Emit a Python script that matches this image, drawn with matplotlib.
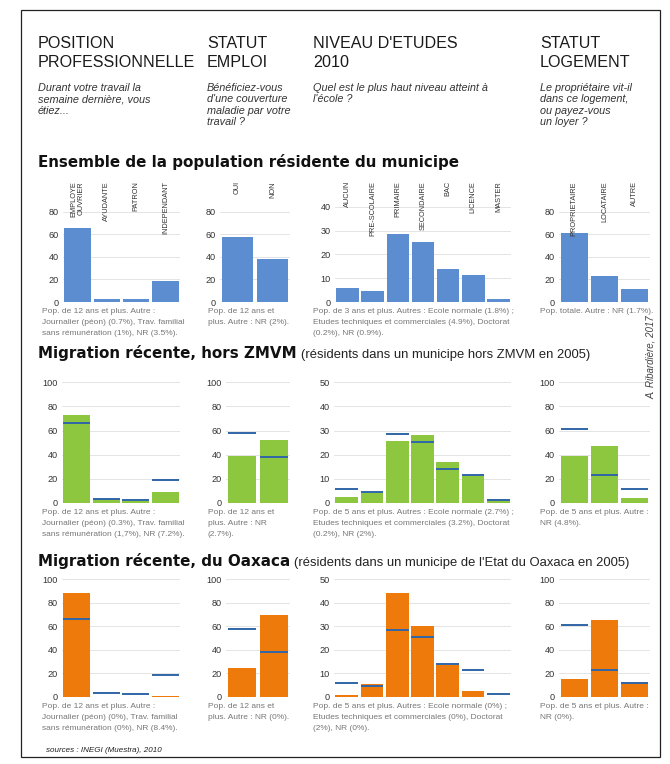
import numpy as np
import matplotlib
matplotlib.use('Agg')
import matplotlib.pyplot as plt
from matplotlib import font_manager, transforms
from matplotlib.patches import Rectangle

W, H = 670, 764

# categories
pos_cats = ['EMPLOYE\nOUVRIER', 'AYUDANTE', 'PATRON', 'INDEPENDANT']
emp_cats = ['OUI', 'NON']
etu_cats = ['AUCUN', 'PRE-SCOLAIRE', 'PRIMAIRE', 'SECONDAIRE', 'BAC', 'LICENCE', 'MASTER']
log_cats = ['PROPRIETAIRE', 'LOCATAIRE', 'AUTRE']

# ensemble de la population (also used as reference lines)
pos_ens = [66, 3, 2.5, 19]
emp_ens = [58, 38]
etu_ens = [6, 4.6, 28.6, 25.3, 14, 11.4, 1.1]
log_ens = [61, 23, 11.5]

# migration recente hors ZMVM
pos_zmvm = [73, 3.3, 1.3, 9.5]
emp_zmvm = [39, 52]
etu_zmvm = [2.3, 4, 25.5, 28, 17, 11.3, 1.5]
log_zmvm = [38.5, 47.5, 4]

# migration recente du Oaxaca
pos_oax = [88, 0, 0, 0.8]
emp_oax = [25, 70]
etu_oax = [0.8, 5.5, 44, 30, 13.5, 2.5, 0]
log_oax = [15, 65, 13]

headers = ['POSITION\nPROFESSIONNELLE', 'STATUT\nEMPLOI', "NIVEAU D'ETUDES\n2010", 'STATUT\nLOGEMENT']
questions = ['Durant votre travail la\nsemaine dernière, vous\nétiez...',
             "Bénéficiez-vous\nd'une couverture\nmaladie par votre\ntravail ?",
             "Quel est le plus haut niveau atteint à\nl'école ?",
             'Le propriétaire vit-il\ndans ce logement,\nou payez-vous\nun loyer ?']

notes_ens = ['Pop. de 12 ans et plus. Autre :\nJournalier (péon) (0.7%), Trav. familial\nsans rémunération (1%), NR (3.5%).',
             'Pop. de 12 ans et\nplus. Autre : NR (2%).',
             'Pop. de 3 ans et plus. Autres : Ecole normale (1.8%) ;\nEtudes techniques et commerciales (4.9%), Doctorat\n(0.2%), NR (0.9%).',
             'Pop. totale. Autre : NR (1.7%).']
notes_zmvm = ['Pop. de 12 ans et plus. Autre :\nJournalier (péon) (0.3%), Trav. familial\nsans rémunération (1,7%), NR (7.2%).',
              'Pop. de 12 ans et\nplus. Autre : NR\n(2.7%).',
              'Pop. de 5 ans et plus. Autres : Ecole normale (2.7%) ;\nEtudes techniques et commerciales (3.2%), Doctorat\n(0.2%), NR (2%).',
              'Pop. de 5 ans et plus. Autre :\nNR (4.8%).']
notes_oax = ['Pop. de 12 ans et plus. Autre :\nJournalier (péon) (0%), Trav. familial\nsans rémunération (0%), NR (8.4%).',
             'Pop. de 12 ans et\nplus. Autre : NR (0%).',
             'Pop. de 5 ans et plus. Autres : Ecole normale (0%) ;\nEtudes techniques et commerciales (0%), Doctorat\n(2%), NR (0%).',
             'Pop. de 5 ans et plus. Autre :\nNR (0%).']

BLUE, GREEN, ORANGE, REF = '#5b8dd0', '#8dc63f', '#ee7a0c', '#2f66a8'

names = {f.name for f in font_manager.fontManager.ttflist}
NARROW = 'Liberation Sans Narrow' if 'Liberation Sans Narrow' in names else 'Liberation Sans'

fig = plt.figure(figsize=(W/100, H/100), dpi=100)
fig.patch.set_facecolor('white')

def fx(x): return x / W
def fy(y): return 1 - y / H

# frame
fig.patches.append(Rectangle((fx(21), fy(757)), fx(660)-fx(21), (757-10)/H,
                             transform=fig.transFigure, fill=False, lw=0.9, ec='#222'))

# column headers
head_x = [38, 207, 313, 540]
for x, h, q in zip(head_x, headers, questions):
    fig.text(fx(x), fy(36), h, family=NARROW, fontsize=11.6, va='top', ha='left',
             color='#1a1a1a', linespacing=1.3)
    fig.text(fx(x), fy(83), q, family='Liberation Sans', style='italic', fontsize=7.8,
             va='top', ha='left', color='#333', linespacing=1.18)

# section headings
def heading(y, bold, rest=None):
    t = fig.text(fx(38), fy(y), bold, family='DejaVu Sans', weight='bold', fontsize=10.9,
                 va='baseline', ha='left', color='#111')
    if rest:
        r = fig.canvas.get_renderer()
        bb = t.get_window_extent(renderer=r)
        fig.text(bb.x1 / (fig.dpi * fig.get_figwidth()) + 0.006, fy(y), rest, family=NARROW,
                 fontsize=9.4, va='baseline', ha='left', color='#222')

heading(167, 'Ensemble de la population résidente du municipe')
heading(358, 'Migration récente, hors ZMVM', '(résidents dans un municipe hors ZMVM en 2005)')
heading(566, 'Migration récente, du Oaxaca', "(résidents dans un municipe de l'Etat du Oaxaca en 2005)")

def panel(x0, x1, y_top, y_bot, vals, color, ymax, ticks, ref=None):
    ax = fig.add_axes([fx(x0), fy(y_bot), fx(x1) - fx(x0), (y_bot - y_top) / H])
    xs = np.arange(len(vals))
    ax.bar(xs, vals, width=0.9, color=color, zorder=2)
    if ref is not None:
        ax.hlines(ref, xs - 0.45, xs + 0.45, color=REF, lw=1.4, zorder=3)
    ax.set_xlim(-0.5, len(vals) - 0.5)
    ax.set_ylim(0, ymax)
    ax.set_yticks(ticks)
    ax.set_xticks([])
    ax.grid(axis='y', color='#e4e4e4', lw=0.7, zorder=0)
    for s in ax.spines.values():
        s.set_visible(False)
    ax.tick_params(axis='y', length=0, pad=3, labelsize=6.6, labelcolor='#333')
    for lab in ax.get_yticklabels():
        lab.set_family(NARROW)
    ax.patch.set_alpha(0)
    return ax

cols_x = [(63, 180), (220, 290), (335, 511), (559, 650)]
cols_x2 = [(62, 180), (226, 290), (334, 511), (559, 650)]
note_x = [42, 208, 313, 540]

# row 1
row1 = [(pos_cats, pos_ens, 86.2, [0, 20, 40, 60, 80]),
        (emp_cats, emp_ens, 86.2, [0, 20, 40, 60, 80]),
        (etu_cats, etu_ens, 40.8, [0, 10, 20, 30, 40]),
        (log_cats, log_ens, 86.2, [0, 20, 40, 60, 80])]
for (x0, x1), (cats, vals, ymax, ticks), nx, note in zip(cols_x, row1, note_x, notes_ens):
    ax = panel(x0, x1, 205, 302, vals, BLUE, ymax, ticks)
    tr = transforms.blended_transform_factory(ax.transData, fig.transFigure)
    for i, c in enumerate(cats):
        ax.text(i, fy(181), c, transform=tr, rotation=90, va='top', ha='center',
                family=NARROW, fontsize=5.3, color='#333', multialignment='right',
                linespacing=0.95)
    fig.text(fx(nx), fy(308), note, family=NARROW, fontsize=6.0, va='top', ha='left',
             color='#777', linespacing=1.8)

# rows 2 and 3
rows = [(381, 503, GREEN, [pos_zmvm, emp_zmvm, etu_zmvm, log_zmvm], notes_zmvm),
        (578, 697, ORANGE, [pos_oax, emp_oax, etu_oax, log_oax], notes_oax)]
refs = [pos_ens, emp_ens, etu_ens, log_ens]
for yt, yb, color, series, notes in rows:
    for k, ((x0, x1), vals, ref, nx, note) in enumerate(zip(cols_x2, series, refs, note_x, notes)):
        if k == 2:
            panel(x0, x1, yt, yb, vals, color, 50.5, [0, 10, 20, 30, 40, 50], ref)
        else:
            panel(x0, x1, yt, yb, vals, color, 101, [0, 20, 40, 60, 80, 100], ref)
        fig.text(fx(nx), fy(yb + 6), note, family=NARROW, fontsize=6.0, va='top', ha='left',
                 color='#777', linespacing=1.8)

# credit and source
fig.text(fx(651), fy(357), 'A. Ribardière, 2017', rotation=90, family=NARROW, style='italic',
         fontsize=7.0, color='#444', ha='center', va='center')
fig.text(fx(46), fy(750), 'sources : INEGI (Muestra), 2010', family=NARROW, style='italic',
         fontsize=5.8, color='#222', ha='left', va='center')

fig.savefig('out.png', dpi=100)
